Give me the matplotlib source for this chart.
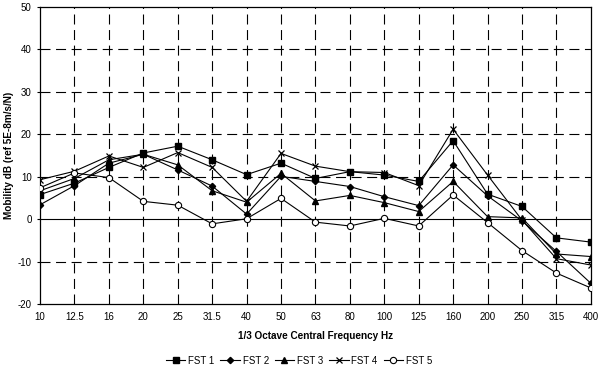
import numpy as np
import matplotlib
matplotlib.use("Agg")
import matplotlib.pyplot as plt

freqs = ["10", "12.5", "16", "20", "25", "31.5", "40", "50", "63", "80",
         "100", "125", "160", "200", "250", "315", "400"]

fst1 = [5.8, 8.5, 12.2, 15.6, 17.2, 14.0, 10.5, 13.2, 9.6, 11.2, 10.4, 8.9, 18.5, 5.9, 3.0, -4.4, -5.4]
fst2 = [3.4, 7.9, 13.2, 15.3, 11.6, 7.8, 1.2, 10.1, 8.9, 7.7, 5.3, 3.2, 12.8, 5.5, -0.4, -7.6, -15.1]
fst3 = [6.7, 9.6, 14.0, 15.3, 12.8, 6.7, 4.0, 10.8, 4.3, 5.6, 3.9, 1.8, 8.9, 0.6, 0.3, -8.2, -8.8]
fst4 = [9.3, 11.3, 14.9, 12.2, 15.7, 12.2, 4.2, 15.5, 12.5, 11.2, 11.0, 7.9, 21.2, 10.4, -0.2, -9.3, -10.8]
fst5 = [7.4, 10.9, 9.8, 4.2, 3.3, -1.1, 0.1, 4.9, -0.7, -1.6, 0.2, -1.6, 5.7, -0.8, -7.4, -12.7, -16.2]

series = [
    ("FST 1", fst1, dict(marker="s", markersize=4.5, markerfacecolor="black")),
    ("FST 2", fst2, dict(marker="D", markersize=3.2, markerfacecolor="black")),
    ("FST 3", fst3, dict(marker="^", markersize=4.5, markerfacecolor="black")),
    ("FST 4", fst4, dict(marker="x", markersize=5, markeredgewidth=0.9)),
    ("FST 5", fst5, dict(marker="o", markersize=4.5, markerfacecolor="white", markeredgewidth=0.8)),
]

plt.rcParams["font.family"] = ["Liberation Sans", "DejaVu Sans"]
plt.rcParams["axes.unicode_minus"] = False

fig = plt.figure(figsize=(5.98, 3.69), dpi=100)
ax = fig.add_axes([0.067, 0.176, 0.921, 0.805])

x = np.arange(len(freqs))
for name, vals, style in series:
    ax.plot(x, vals, color="black", linewidth=0.8, label=name, zorder=3, **style)

ax.set_xlim(0, len(freqs) - 1)
ax.set_ylim(-20, 50)
ax.set_xticks(x)
ax.set_xticklabels(freqs)
ax.set_yticks(range(-20, 51, 10))
ax.tick_params(axis="both", labelsize=7, length=2.5, width=0.8, direction="out")
ax.tick_params(axis="x", length=0, pad=6)

dash = (0, (9, 5))
for xi in x[1:-1]:
    ax.axvline(xi, color="black", linewidth=0.8, linestyle=dash, zorder=1)
for yv in range(-10, 50, 10):
    if yv == 0:
        ax.axhline(0, color="black", linewidth=0.8, zorder=1)
    else:
        ax.axhline(yv, color="black", linewidth=0.8, linestyle=dash, zorder=1)

for sp in ax.spines.values():
    sp.set_linewidth(0.9)

ax.set_xlabel("1/3 Octave Central Frequency Hz", fontsize=7.2, fontweight="bold", labelpad=6)
ax.set_ylabel("Mobility dB (ref 5E-8m/s/N)", fontsize=7.2, fontweight="bold", labelpad=3)

fig.legend(loc="lower center", bbox_to_anchor=(0.5, -0.015), ncol=5, frameon=False,
           fontsize=7, handlelength=2.0, handletextpad=0.3, columnspacing=0.6)

fig.savefig("out.png", dpi=100)
